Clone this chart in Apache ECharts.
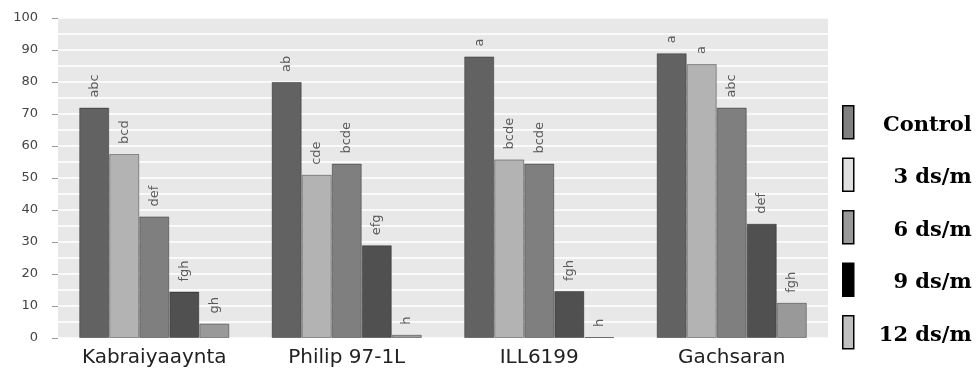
<!DOCTYPE html>
<html>
<head>
<meta charset="utf-8">
<script src="https://cdn.jsdelivr.net/npm/echarts@6/dist/echarts.min.js"></script>
<style>
  html, body { margin: 0; padding: 0; background: #fff; }
  #main { width: 979px; height: 370px; }
</style>
</head>
<body>
<div id="main"></div>
<script>
// cultivars on the x axis
const cultivars = ['Kabraiyaaynta', 'Philip 97-1L', 'ILL6199', 'Gachsaran'];
const treatments = ['Control', '3 ds/m', '6 ds/m', '9 ds/m', '12 ds/m'];

// values, one array per salinity level
const control = [72, 80, 88, 89];
const ds3 = [57.5, 51, 55.8, 85.6];
const ds6 = [38, 54.5, 54.5, 72];
const ds9 = [14.5, 29, 14.7, 35.7];
const ds12 = [4.5, 1, 0.3, 11];

// significance letters over each bar
const letControl = ['abc', 'ab', 'a', 'a'];
const let3 = ['bcd', 'cde', 'bcde', 'a'];
const let6 = ['def', 'bcde', 'bcde', 'abc'];
const let9 = ['fgh', 'efg', 'fgh', 'def'];
const let12 = ['gh', 'h', 'h', 'fgh'];

const barColors = ['#626262', '#b3b3b3', '#7f7f7f', '#505050', '#999999'];
const legendColors = ['#808080', '#e0e0e0', '#999999', '#000000', '#c0c0c0'];

const values = [control, ds3, ds6, ds9, ds12];
const letters = [letControl, let3, let6, let9, let12];

let chartDom = document.getElementById('main');
let myChart = echarts.init(chartDom);

let series = treatments.map(function (name, i) {
  return {
    name: name,
    type: 'bar',
    barGap: 0,
    barCategoryGap: '22%',
    data: values[i],
    itemStyle: {
      color: barColors[i],
      borderColor: 'rgba(0,0,0,0.35)',
      borderWidth: 1
    },
    label: {
      show: true,
      position: 'top',
      rotate: 90,
      align: 'left',
      verticalAlign: 'middle',
      distance: 10,
      fontFamily: 'DejaVu Sans',
      fontSize: 13,
      color: '#5a5a5a',
      formatter: function (p) {
        return letters[i][p.dataIndex];
      }
    }
  };
});

let option = {
  animation: false,
  grid: {
    left: 58,
    right: 151,
    top: 18,
    bottom: 32,
    backgroundColor: '#e8e8e8',
    show: true,
    borderWidth: 0
  },
  legend: {
    orient: 'vertical',
    left: 837,
    top: 100,
    icon: 'rect',
    itemWidth: 11,
    itemHeight: 33,
    itemGap: 18,
    selectedMode: false,
    data: treatments.map(function (name, i) {
      return {
        name: name,
        itemStyle: { color: legendColors[i], borderColor: '#000', borderWidth: 1.5 }
      };
    }),
    formatter: function (name) {
      return '{t|' + name + '}';
    },
    textStyle: {
      rich: {
        t: {
          width: 113,
          align: 'right',
          padding: [6, 0, 0, 0],
          fontFamily: 'DejaVu Serif',
          fontWeight: 'bold',
          fontSize: 21,
          color: '#000'
        }
      }
    }
  },
  xAxis: {
    type: 'category',
    data: cultivars,
    axisLine: { show: false },
    axisTick: { show: false },
    axisLabel: {
      margin: 10,
      fontFamily: 'DejaVu Sans',
      fontSize: 20,
      color: '#222'
    }
  },
  yAxis: {
    type: 'value',
    min: 0,
    max: 100,
    interval: 10,
    axisLine: { show: false },
    axisTick: { show: true, length: 6, lineStyle: { color: '#999' } },
    axisLabel: {
      margin: 20,
      fontFamily: 'DejaVu Sans',
      fontSize: 13,
      color: '#444'
    },
    splitLine: { lineStyle: { color: '#ffffff', width: 1.5 } },
    minorTick: { show: false, splitNumber: 2 },
    minorSplitLine: { show: true, lineStyle: { color: '#ffffff', width: 1.5 } }
  },
  series: series
};

option && myChart.setOption(option);
</script>
</body>
</html>
